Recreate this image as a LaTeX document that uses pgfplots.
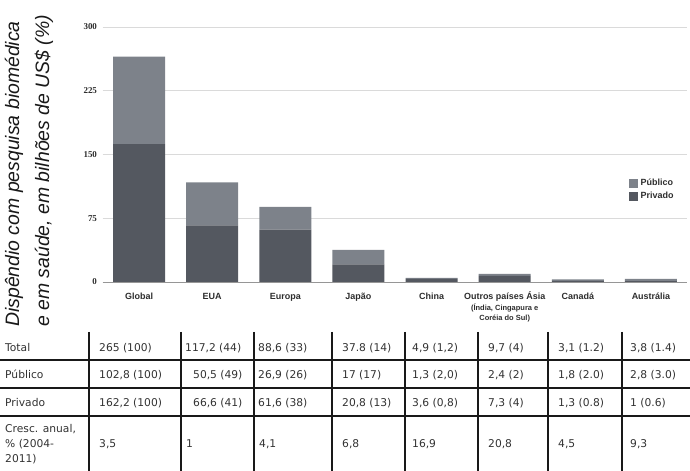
\documentclass[border=0pt]{standalone}
\usepackage{fontspec}
\setmainfont{Liberation Sans}
\newfontfamily\tabfont{DejaVu Sans}
\newfontfamily\numfont{Liberation Serif}
\usepackage{pgfplots}
\usepackage{pgfplotstable}
\pgfplotsset{compat=1.18}

\definecolor{privado}{RGB}{84,88,96}
\definecolor{publico}{RGB}{125,130,138}
\definecolor{txt}{RGB}{45,45,45}
\definecolor{tabtxt}{RGB}{50,50,50}
\definecolor{gridc}{RGB}{218,218,218}
\definecolor{axisc}{RGB}{150,150,150}
\definecolor{rule}{RGB}{25,25,25}

% bilhoes de US$: privado embaixo, publico em cima
\pgfplotstableread{
x  privado publico
0  162.2   102.8
1  66.6    50.5
2  61.6    26.9
3  20.8    17.0
4  3.6     1.3
5  7.3     2.4
6  1.3     1.8
7  1.0     2.8
}\gastos

\begin{document}
\begin{tikzpicture}
\useasboundingbox (0,0) rectangle (690bp,471bp);
\begin{axis}[
  at={(102.5bp,189bp)}, anchor=south west,
  scale only axis, width=585bp, height=255bp,
  ybar stacked, bar width=0.71,
  xmin=-0.5, xmax=7.5, ymin=0, ymax=300,
  enlarge x limits=false,
  axis x line=bottom, axis y line=left,
  axis line style={-},
  x axis line style={draw=axisc, line width=0.9bp},
  y axis line style={draw=none},
  major tick length=0pt,
  tick style={draw=none},
  ymajorgrids, grid style={draw=gridc, line width=0.9bp},
  ytick={0,75,150,225,300},
  yticklabel={\numfont\bfseries\fontsize{9}{11}\selectfont\pgfmathprintnumber[assume math mode=true]{\tick}},
  xtick={0,...,7},
  xticklabels={Global, EUA, Europa, Japão, China,
    {\begin{tabular}[t]{@{}c@{}}Outros países Ásia\\
      \fontsize{7.5}{9}\selectfont(Índia, Cingapura e\\
      \fontsize{7.5}{9}\selectfont Coréia do Sul)\end{tabular}},
    Canadá, Austrália},
  yticklabel style={text=txt, xshift=-2bp},
  xticklabel style={font=\bfseries\fontsize{9}{10.5}\selectfont, text=txt, anchor=base, yshift=-18bp},
  legend style={at={(0.9,0.414)}, anchor=north west, draw=none, fill=none,
    inner sep=0pt, font=\bfseries\fontsize{9}{10.5}\selectfont, text=txt,
    row sep=0bp, nodes={inner sep=2.5bp}},
  legend cell align=left,
  reverse legend,
  legend image code/.code={\fill[#1] (0bp,-4.5bp) rectangle (9bp,4.5bp);},
]
\addplot[fill=privado, draw=none] table[x=x, y=privado] {\gastos};
\addlegendentry{Privado}
\addplot[fill=publico, draw=none] table[x=x, y=publico] {\gastos};
\addlegendentry{Público}
\end{axis}

\begin{scope}[x=1bp, y=1bp]
\node[rotate=90, anchor=base west, inner sep=0pt, font=\itshape\fontsize{19.5}{23}\selectfont, text=rule]
  at (19,144) {Dispêndio com pesquisa biomédica};
\node[rotate=90, anchor=base west, inner sep=0pt, font=\itshape\fontsize{19.5}{23}\selectfont, text=rule]
  at (49,144) {e em saúde, em bilhões de US\$ (\%)};

% tabela
\draw[rule, line width=1.8bp] (0,111) -- (690,111) (0,83) -- (690,83) (0,55) -- (690,55);
\foreach \x in {89,181,254,332,405,478,548,622}
  \draw[rule, line width=1.8bp] (\x,139) -- (\x,0);

\tikzset{cell/.style={anchor=base west, inner sep=0pt, font=\tabfont\fontsize{10.75}{13}\selectfont, text=tabtxt}}
\foreach \x/\t in {5/Total, 99/{265 (100)}, 185/{117,2 (44)}, 258/{88,6 (33)}, 342/{37.8 (14)},
    412/{4,9 (1,2)}, 488/{9,7 (4)}, 558/{3,1 (1.2)}, 630/{3,8 (1.4)}}
  \node[cell] at (\x,120) {\t};
\foreach \x/\t in {5/Público, 99/{102,8 (100)}, 193/{50,5 (49)}, 258/{26,9 (26)}, 342/{17 (17)},
    412/{1,3 (2,0)}, 488/{2,4 (2)}, 558/{1,8 (2.0)}, 630/{2,8 (3.0)}}
  \node[cell] at (\x,93) {\t};
\foreach \x/\t in {5/Privado, 99/{162,2 (100)}, 193/{66,6 (41)}, 258/{61,6 (38)}, 342/{20,8 (13)},
    412/{3,6 (0,8)}, 488/{7,3 (4)}, 558/{1,3 (0.8)}, 630/{1 (0.6)}}
  \node[cell] at (\x,65) {\t};
\node[cell] at (5,39) {Cresc. anual,};
\node[cell] at (5,24) {\% (2004-};
\node[cell] at (5,9) {2011)};
\foreach \x/\t in {99/{3,5}, 186/1, 259/{4,1}, 342/{6,8}, 412/{16,9}, 488/{20,8}, 558/{4,5}, 630/{9,3}}
  \node[cell] at (\x,24) {\t};
\end{scope}
\end{tikzpicture}
\end{document}
